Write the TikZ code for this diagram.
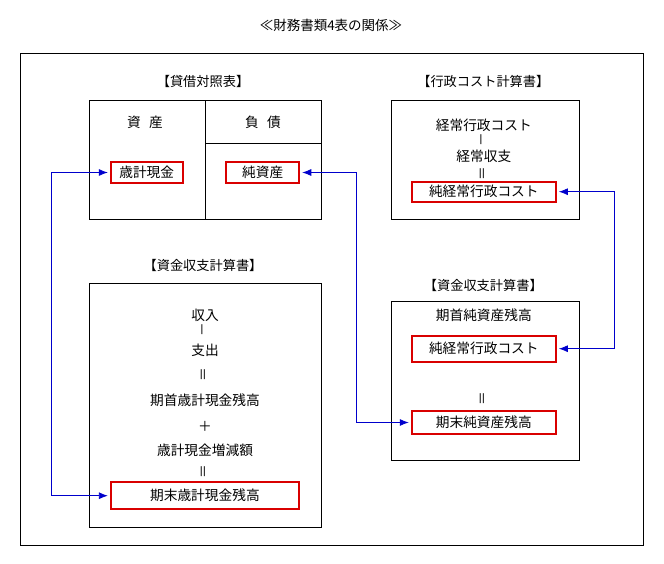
\documentclass[tikz,border=0pt]{standalone}
\usepackage{fontspec}
\setmainfont{Noto Sans CJK JP}
\usetikzlibrary{arrows.meta,calc}

\begin{document}
\begin{tikzpicture}[x=1pt, y=-1pt,
  frame/.style={rectangle, draw, line width=0.9pt, inner sep=0pt},
  redbox/.style={rectangle, draw=red!85!black, line width=1.8pt, inner sep=0pt, minimum width=144.3pt, font=\fontsize{13.7}{15}\selectfont},
  txt/.style={inner sep=0pt, font=\fontsize{13.7}{15}\selectfont},
  ttl/.style={inner sep=0pt, font=\fontsize{13.2}{15}\selectfont},
  vbar/.style={txt, rotate=90},
  link/.style={{Latex[length=9pt,width=7pt]}-{Latex[length=9pt,width=7pt]}, draw=blue!80!black, line width=0.8pt, shorten <=2pt, shorten >=2pt}
]
\useasboundingbox (0,0) rectangle (664,564);
\node[inner sep=0pt, font=\fontsize{13.5}{15}\selectfont] (title) at (331,25) {≪財務書類4表の関係≫};
\draw[line width=1pt] (20.7,54) rectangle (643.3,545);

% 貸借対照表
\node[ttl] (bstitle) at (203,81.7) {【貸借対照表】};
\node[frame, minimum width=232.4pt, minimum height=118.3pt] (bs) at (205.5,159.85) {};
\draw[line width=0.9pt] (bs.north) -- (bs.south);
\draw[line width=0.9pt] ($(bs.north)+(0,43.6)$) -- ($(bs.north east)+(0,43.6)$);
\node[txt] (shisan) at (145,122.7) {資\hspace{0.6em}産};
\node[txt] (fusai) at (263,122.7) {負\hspace{0.6em}債};
\node[redbox, minimum width=72pt, minimum height=20.4pt] (genkin) at (146.7,172.5) {歳計現金};
\node[redbox, minimum width=73.3pt, minimum height=20.4pt] (junshisan) at (262.7,172.5) {純資産};

% 行政コスト計算書
\node[ttl] (gctitle) at (483.3,81.7) {【行政コスト計算書】};
\node[frame, minimum width=188pt, minimum height=118.3pt] (gc) at (485,159.85) {};
\node[txt] (keijocost) at (483.8,125) {経常行政コスト};
\node[vbar] (gcminus) at (483.8,140) {－};
\node[txt] (keijoshushi) at (483.8,156.7) {経常収支};
\node[vbar] (gceq) at (483.8,173.3) {＝};
\node[redbox, minimum height=20pt] (jungyosei) at (483.8,191.7) {純経常行政コスト};

% 資金収支計算書（左）
\node[ttl] (cftitle) at (203,265) {【資金収支計算書】};
\node[frame, minimum width=232.4pt, minimum height=244pt] (cf) at (205.5,405.3) {};
\node[txt] (shunyu) at (205,315) {収入};
\node[vbar] (cfminus) at (205,330) {－};
\node[txt] (shishutsu) at (205,350) {支出};
\node[vbar] (cfeq1) at (205,375) {＝};
\node[txt] (kishu) at (205,400) {期首歳計現金残高};
\node[txt] (cfplus) at (205,426) {＋};
\node[txt] (zogen) at (205,450) {歳計現金増減額};
\node[vbar] (cfeq2) at (205,471.7) {＝};
\node[redbox, minimum width=188.3pt, minimum height=26.7pt] (kimatsugenkin) at (204.9,495.7) {期末歳計現金残高};

% 資金収支計算書（右）
\node[ttl] (nwtitle) at (483.3,285) {【資金収支計算書】};
\node[frame, minimum width=188pt, minimum height=158.3pt] (nw) at (485,380.85) {};
\node[txt] (kishujun) at (483.8,315) {期首純資産残高};
\node[redbox, minimum height=26pt] (jungyosei2) at (483.8,348.7) {純経常行政コスト};
\node[vbar] (nweq) at (483.8,398.3) {＝};
\node[redbox, minimum height=23.6pt] (kimatsujun) at (483.8,422.5) {期末純資産残高};

% 連携
\draw[link] (genkin.west) -- ++(-58.7,0) |- (kimatsugenkin.west);
\draw[link] (junshisan.east) -- ++(56,0) |- (kimatsujun.west);
\draw[link] (jungyosei.east) -- ++(57.5,0) |- (jungyosei2.east);
\end{tikzpicture}
\end{document}
